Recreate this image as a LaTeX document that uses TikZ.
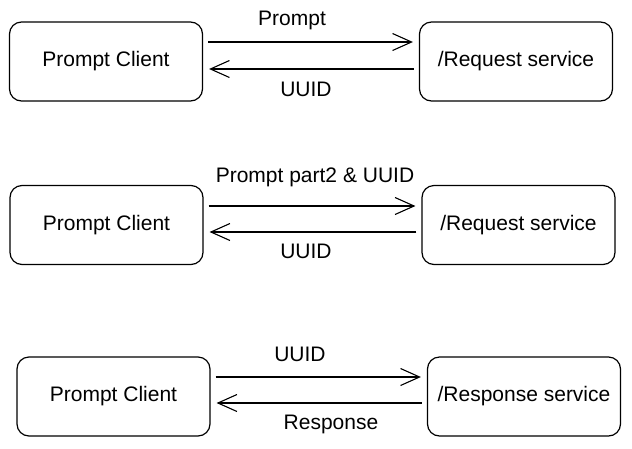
\documentclass[tikz,border=0pt]{standalone}
\usepackage{fontspec}
\setmainfont{Liberation Sans}
\usetikzlibrary{arrows.meta}
\begin{document}
\begin{tikzpicture}[x=1pt,y=-1pt,
 box/.style={draw, line width=1.2pt, rounded corners=12pt, minimum width=193pt, minimum height=79pt, font=\fontsize{21}{24}\selectfont, inner sep=0pt},
 msg/.style={line width=1.1pt, -{Straight Barb[length=19pt,width=17pt,line width=1.1pt]}, shorten <=5pt, shorten >=6pt},
 lbl/.style={font=\fontsize{21}{24}\selectfont, inner sep=0pt}]
\useasboundingbox (0,0) rectangle (632,448);
% row 1
\node[box] (l1) at (106,61.5) {Prompt Client};
\node[box] (r1) at (516,61.5) {/Request service};
\draw[msg] ([yshift=19.5pt]l1.east) -- ([yshift=19.5pt]r1.west);
\draw[msg] ([yshift=-7.5pt]r1.west) -- ([yshift=-7.5pt]l1.east);
\node[lbl] (t1a) at (292,20) {Prompt};
\node[lbl] (t1b) at (306,89) {UUID};
% row 2
\node[box] (l2) at (106.5,225) {Prompt Client};
\node[box] (r2) at (518.5,225) {/Request service};
\draw[msg] ([yshift=19pt]l2.east) -- ([yshift=19pt]r2.west);
\draw[msg] ([yshift=-7pt]r2.west) -- ([yshift=-7pt]l2.east);
\node[lbl] (t2a) at (315,177) {Prompt part2 \& UUID};
\node[lbl] (t2b) at (306,251) {UUID};
% row 3
\node[box] (l3) at (113.5,396.5) {Prompt Client};
\node[box] (r3) at (524,396.5) {/Response service};
\draw[msg] ([yshift=19.5pt]l3.east) -- ([yshift=19.5pt]r3.west);
\draw[msg] ([yshift=-6.5pt]r3.west) -- ([yshift=-6.5pt]l3.east);
\node[lbl] (t3a) at (300,354) {UUID};
\node[lbl] (t3b) at (331,424) {Response};
\end{tikzpicture}
\end{document}
